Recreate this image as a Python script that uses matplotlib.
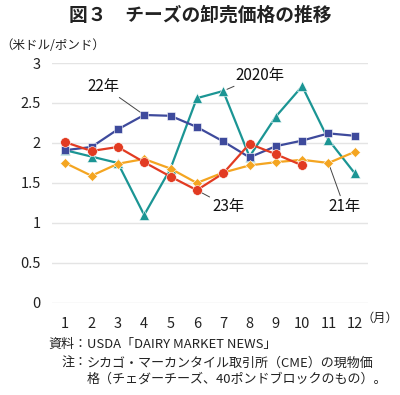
import numpy as np
import matplotlib.pyplot as plt
import matplotlib as mpl

mpl.rcParams['font.family'] = ['Noto Sans CJK JP', 'DejaVu Sans']

months = [1, 2, 3, 4, 5, 6, 7, 8, 9, 10, 11, 12]
y2020 = [1.91, 1.83, 1.75, 1.10, 1.68, 2.56, 2.65, 1.83, 2.33, 2.71, 2.04, 1.62]
y2021 = [1.75, 1.59, 1.74, 1.80, 1.68, 1.50, 1.63, 1.72, 1.76, 1.79, 1.75, 1.89]
y2022 = [1.91, 1.95, 2.17, 2.35, 2.34, 2.20, 2.02, 1.82, 1.96, 2.03, 2.12, 2.09]
y2023 = [2.01, 1.90, 1.95, 1.76, 1.58, 1.41, 1.62, 1.99, 1.86, 1.72]

c_teal = '#1b9594'
c_blue = '#3e4a9c'
c_red = '#e23b22'
c_orange = '#f4a521'

fig = plt.figure(figsize=(4.0, 3.95), dpi=100)
ax = fig.add_axes([0.13, 0.233, 0.79, 0.6075])

ax.plot(months, y2020, color=c_teal, lw=1.6, marker='^', ms=6.5, mec='white', mew=0.4, zorder=3)
ax.plot(months, y2022, color=c_blue, lw=1.6, marker='s', ms=5.8, mec='white', mew=0.4, zorder=4)
ax.plot(months, y2021, color=c_orange, lw=1.6, marker='D', ms=5.5, mec='white', mew=0.4, zorder=5)
ax.plot(months[:len(y2023)], y2023, color=c_red, lw=1.6, marker='o', ms=7, mec='white', mew=0.4, zorder=6)

ax.set_xlim(0.5, 12.5)
ax.set_ylim(0, 3)
ax.set_xticks(months)
ax.set_yticks([0, 0.5, 1, 1.5, 2, 2.5, 3])
ax.set_yticklabels(['0', '0.5', '1', '1.5', '2', '2.5', '3'])
ax.grid(axis='y', color='#e4e4e4', lw=1.0)
ax.set_axisbelow(True)
for s in ax.spines.values():
    s.set_visible(False)
ax.tick_params(length=0, labelsize=10.5, colors='#222222')
ax.tick_params(axis='x', pad=10)
ax.tick_params(axis='y', pad=8)

lk = dict(arrowprops=dict(arrowstyle='-', color='#444444', lw=0.7, shrinkA=0, shrinkB=3),
          fontsize=11, color='#111111')
ax.annotate('22年', xy=(4, y2022[3]), xytext=(2.45, 2.71), ha='center', va='center', **lk)
ax.annotate('2020年', xy=(7, y2020[6]), xytext=(8.4, 2.85), ha='center', va='center', **lk)
ax.annotate('23年', xy=(6, y2023[5]), xytext=(7.2, 1.2), ha='center', va='center', **lk)
ax.annotate('21年', xy=(11, y2021[10]), xytext=(11.6, 1.2), ha='center', va='center', **lk)

fig.text(0.5, 0.962, '図３　チーズの卸売価格の推移', ha='center', va='center',
         fontsize=13.5, fontweight='bold', color='#222222')
fig.text(0.0, 0.885, '（米ドル/ポンド）', ha='left', va='center', fontsize=9, color='#222222')
fig.text(0.995, 0.195, '（月）', ha='right', va='center', fontsize=8.8, color='#222222')

fx = 0.2175
fs = 9.4
fig.text(fx, 0.127, '資料：', ha='right', va='center', fontsize=fs, color='#222222')
fig.text(fx, 0.127, 'USDA「DAIRY MARKET NEWS」', ha='left', va='center', fontsize=fs, color='#222222')
fig.text(fx, 0.081, '注：', ha='right', va='center', fontsize=fs, color='#222222')
fig.text(fx, 0.081, 'シカゴ・マーカンタイル取引所（CME）の現物価', ha='left', va='center', fontsize=fs, color='#222222')
fig.text(fx, 0.040, '格（チェダーチーズ、40ポンドブロックのもの）。', ha='left', va='center', fontsize=fs, color='#222222')

fig.savefig('out.png', dpi=100)
